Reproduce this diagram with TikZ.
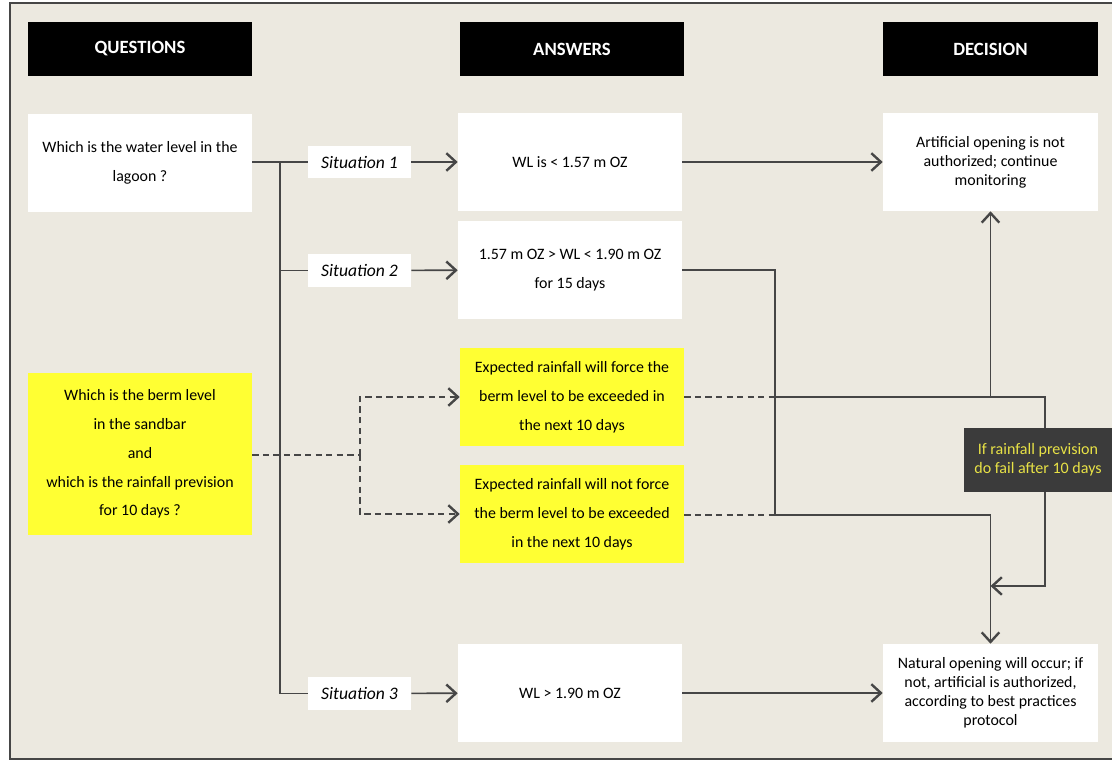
\documentclass[tikz,border=0pt]{standalone}
\usepackage{fontspec}
\setmainfont{Carlito}
\usepackage{tikz}
\usetikzlibrary{positioning,arrows.meta,calc}
\definecolor{beige}{RGB}{236,233,224}
\definecolor{hiyel}{RGB}{255,255,51}
\definecolor{linegray}{RGB}{70,70,70}
\definecolor{notegray}{RGB}{59,59,59}
\definecolor{notetext}{RGB}{232,226,70}
\tikzset{head/.style = {fill=black,text=white,font=\fontsize{13.3}{15}\selectfont\bfseries,minimum width=5.6cm,minimum height=1.35cm,inner sep=0pt},
  box/.style = {fill=white,align=center,font=\fontsize{11.3}{20.5}\selectfont,minimum width=5.6cm,minimum height=2.45cm,inner sep=0pt},
  decbox/.style = {box,font=\fontsize{11.3}{13.5}\selectfont,minimum width=5.375cm},
  yelbox/.style = {box,fill=hiyel},
  sit/.style = {fill=white,font=\fontsize{12.5}{14}\selectfont\itshape,minimum width=2.575cm,minimum height=0.8cm,inner sep=0pt},
  conn/.style = {draw=linegray,line width=1.2pt},
  dashconn/.style = {conn,dash pattern=on 4.5pt off 3pt}}

\begin{document}
\begin{tikzpicture}[x=0.025cm,y=-0.025cm,>={Straight Barb[length=2.4mm,width=4.4mm,line width=1.7pt]}]
        \useasboundingbox (0,0) rectangle (1112,761);
        \fill[white] (0,0) rectangle (1112,761);
        \draw[fill=beige,draw=linegray,line width=1pt] (10,3) rectangle (1120,759);
        \node[head] (hq) at (140,49) {QUESTIONS};
        \node[head] (ha) at (572,49) {ANSWERS};
        \node[head,minimum width=5.375cm] (hd) at (990.5,49) {DECISION};
        \node[box] (q1) at (140,163) {Which is the water level in the\\lagoon ?};
        \node[yelbox,minimum height=4.05cm] (q2) at (140,454) {Which is the berm level\\in the sandbar\\and\\which is the rainfall prevision\\for 10 days ?};
        \node[sit] (s1) at (359.5,162) {Situation 1};
        \node[sit] (s2) at (359.5,270.5) {Situation 2};
        \node[sit] (s3) at (359.5,693.5) {Situation 3};
        \node[box] (a1) at (570,162) {WL is < 1.57 m OZ};
        \node[box] (a2) at (570,270) {1.57 m OZ > WL < 1.90 m OZ\\for 15 days};
        \node[yelbox] (a3) at (572,397) {Expected rainfall will force the\\berm level to be exceeded in\\the next 10 days};
        \node[yelbox] (a4) at (572,514) {Expected rainfall will not force\\the berm level to be exceeded\\in the next 10 days};
        \node[box] (a5) at (570,693) {WL > 1.90 m OZ};
        \node[decbox] (d1) at (990.5,162) {Artificial opening is not\\authorized; continue\\monitoring};
        \node[decbox] (d2) at (990.5,693) {Natural opening will occur; if\\not, artificial is authorized,\\according to best practices\\protocol};
        \node[fill=notegray,text=notetext,align=center,font=\fontsize{11.4}{13.5}\selectfont,minimum width=3.7cm,minimum height=1.575cm,inner sep=0pt] (fail) at (1038,460) {If rainfall prevision\\do fail after 10 days};
        \coordinate (j1) at (280,162);
        \coordinate (j2) at (360,455);
        \coordinate (m2) at (775,515);
        \coordinate (loop) at (1045,586);
        \draw[conn] (q1.east |- j1) -- (s1.west);
        \draw[conn] (j1) |- (s2.west);
        \draw[conn] (j1) |- (s3.west);
        \draw[conn,->] (s1) -- (a1);
        \draw[conn,->] (s2) -- (a2);
        \draw[conn,->] (s3) -- (a5);
        \draw[conn,->] (a1) -- (d1);
        \draw[conn,->] (a5) -- (d2);
        \draw[conn,->] (a2.east) -| (m2) -| (d2.north);
        \draw[dashconn] (q2.east |- j2) -- (j2);
        \draw[dashconn,->] (j2) |- (a3.west);
        \draw[dashconn,->] (j2) |- (a4.west);
        \draw[dashconn] (a3.east) -- (a3.east -| m2);
        \draw[dashconn] (a4.east |- m2) -- (m2);
        \draw[conn] (a3.east -| m2) -| (fail.north -| loop);
        \draw[conn,->] (fail.south -| loop) |- (d2.north |- loop);
        \draw[conn,->] (d1.south |- a3.east) -- (d1.south);
    \end{tikzpicture}
\end{document}
